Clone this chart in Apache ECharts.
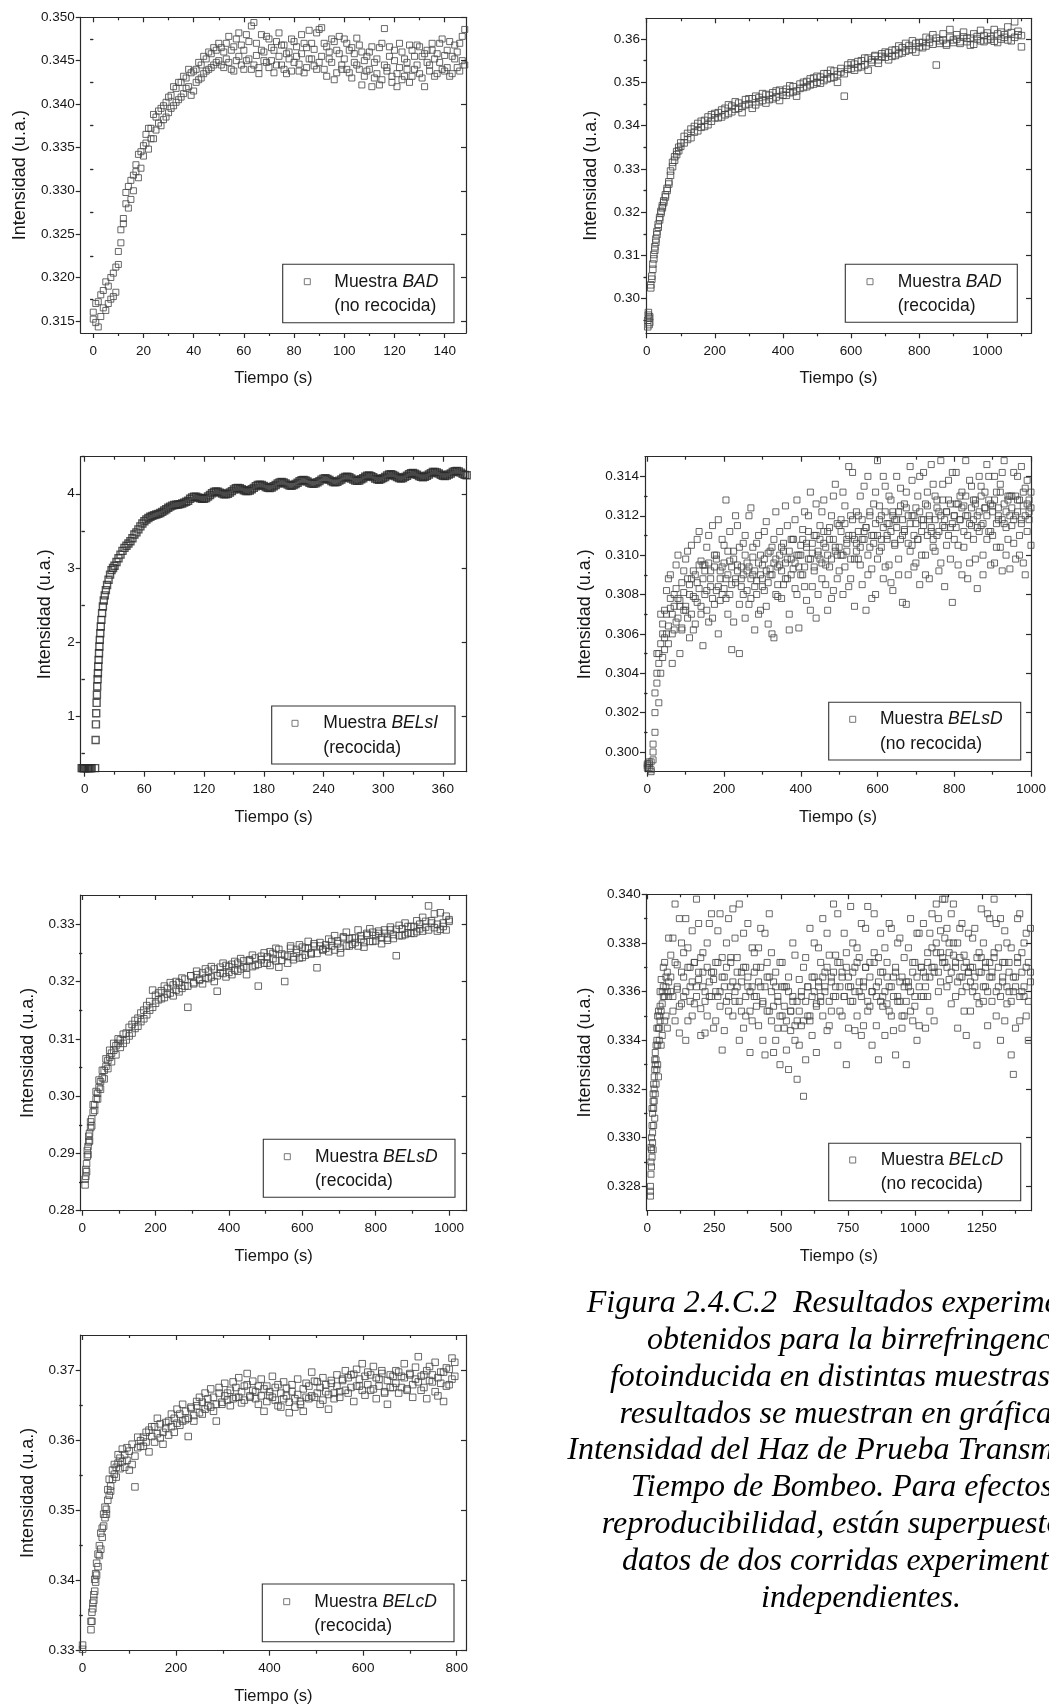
<!DOCTYPE html>
<html>
<head>
<meta charset="utf-8">
<script src="https://cdn.jsdelivr.net/npm/echarts@6/dist/echarts.min.js"></script>
<style>
  html, body { margin: 0; padding: 0; background: #fff; }
  #chart { width: 1049px; height: 1707px; }
</style>
</head>
<body>
<div id="chart"></div>
<script>
// ---- Muestra BAD (no recocida) ----
const badNoRecT = [0,1,2,3,4,5,6,7,8,9,10,11,12,13,14,15,16,17,18,19,20,21,22,23,24,25,26,27,28,29,
  30,31,32,33,34,35,36,37,38,39,40,41,42,43,44,45,46,47,48,49,50,51,52,53,54,55,56,57,58,59,
  60,61,62,63,64,65,66,67,68,69,70,71,72,73,74,75,76,77,78,79,80,81,82,83,84,85,86,87,88,89,
  90,91,92,93,94,95,96,97,98,99,100,101,102,103,104,105,106,107,108,109,110,111,112,113,114,115,116,117,118,119,
  120,121,122,123,124,125,126,127,128,129,130,131,132,133,134,135,136,137,138,139,140,141,142,143,144,145,146,147,148,149];
const badNoRecA = [0.3160,0.3148,0.3172,0.3155,0.3185,0.3162,0.3190,0.3175,0.3205,0.3183,
  0.3215,0.3240,0.3268,0.3285,0.3305,0.3290,0.3318,0.3330,0.3342,0.3326,
  0.3352,0.3365,0.3348,0.3372,0.3360,0.3385,0.3378,0.3395,0.3382,0.3402,
  0.3390,0.3410,0.3398,0.3418,0.3405,0.3425,0.3412,0.3430,0.3420,0.3436,
  0.3415,0.3440,0.3428,0.3445,0.3435,0.3452,0.3440,0.3458,0.3445,0.3462,
  0.3450,0.3465,0.3442,0.3470,0.3448,0.3462,0.3438,0.3475,0.3455,0.3468,
  0.3440,0.3480,0.3452,0.3490,0.3445,0.3470,0.3435,0.3462,0.3450,0.3478,
  0.3442,0.3465,0.3436,0.3472,0.3455,0.3445,0.3468,0.3435,0.3460,0.3475,
  0.3448,0.3466,0.3438,0.3458,0.3470,0.3442,0.3485,0.3452,0.3463,0.3440,
  0.3486,0.3455,0.3470,0.3432,0.3460,0.3448,0.3472,0.3436,0.3458,0.3445,
  0.3475,0.3440,0.3462,0.3430,0.3458,0.3445,0.3468,0.3422,0.3450,0.3438,
  0.3460,0.3420,0.3448,0.3435,0.3465,0.3428,0.3487,0.3442,0.3455,0.3425,
  0.3450,0.3420,0.3442,0.3460,0.3432,0.3448,0.3425,0.3462,0.3440,0.3468,
  0.3435,0.3455,0.3420,0.3462,0.3445,0.3470,0.3432,0.3458,0.3448,0.3475,
  0.3438,0.3462,0.3432,0.3455,0.3468,0.3442,0.3470,0.3450,0.3486,0.3418];
const badNoRecB = [0.3152,0.3170,0.3143,0.3180,0.3165,0.3195,0.3170,0.3200,0.3178,0.3212,
  0.3230,0.3255,0.3262,0.3298,0.3280,0.3312,0.3300,0.3322,0.3315,0.3345,
  0.3340,0.3355,0.3372,0.3360,0.3388,0.3370,0.3392,0.3375,0.3398,0.3385,
  0.3408,0.3395,0.3420,0.3402,0.3425,0.3408,0.3432,0.3418,0.3440,0.3410,
  0.3438,0.3425,0.3448,0.3430,0.3455,0.3438,0.3460,0.3442,0.3465,0.3448,
  0.3470,0.3445,0.3460,0.3452,0.3478,0.3440,0.3466,0.3450,0.3482,0.3445,
  0.3462,0.3450,0.3472,0.3440,0.3494,0.3456,0.3442,0.3480,0.3460,0.3448,
  0.3475,0.3450,0.3462,0.3445,0.3482,0.3468,0.3440,0.3458,0.3452,0.3438,
  0.3472,0.3455,0.3446,0.3480,0.3436,0.3465,0.3452,0.3470,0.3444,0.3482,
  0.3448,0.3488,0.3440,0.3466,0.3452,0.3475,0.3428,0.3462,0.3478,0.3440,
  0.3452,0.3470,0.3436,0.3465,0.3448,0.3476,0.3440,0.3460,0.3432,0.3455,
  0.3440,0.3466,0.3430,0.3452,0.3422,0.3470,0.3445,0.3438,0.3466,0.3432,
  0.3462,0.3435,0.3470,0.3428,0.3452,0.3440,0.3468,0.3432,0.3455,0.3445,
  0.3466,0.3430,0.3458,0.3448,0.3438,0.3462,0.3452,0.3435,0.3470,0.3440,
  0.3456,0.3442,0.3472,0.3435,0.3452,0.3460,0.3438,0.3478,0.3445,0.3460];

// ---- Muestra BAD (recocida) ----
const badRecT = [3,5,7,9,12,15,18,21,24,27,30,34,38,42,46,50,55,60,65,70,76,82,88,94,100,
  110,120,130,140,150,160,170,180,190,200,210,220,230,240,250,260,270,280,290,300,
  310,320,330,340,350,360,370,380,390,400,410,420,430,440,450,460,470,480,490,500,
  510,520,530,540,550,560,570,580,590,600,610,620,630,640,650,660,670,680,690,700,
  710,720,730,740,750,760,770,780,790,800,810,820,830,840,850,860,870,880,890,900,
  910,920,930,940,950,960,970,980,990,1000,1010,1020,1030,1040,1050,1060,1070,1080,1090,1100];
const badRecA = [0.2950,0.2962,0.2940,0.2958,0.3025,0.3052,0.3080,0.3102,0.3120,0.3138,0.3155,0.3172,0.3188,
  0.3202,0.3215,0.3226,0.3240,0.3255,0.3270,0.3295,0.3315,0.3328,0.3340,0.3350,0.3360,
  0.3375,0.3368,0.3392,0.3385,0.3405,0.3396,0.3412,0.3402,0.3425,0.3418,
  0.3430,0.3420,0.3440,0.3428,0.3445,0.3438,0.3452,0.3444,0.3460,0.3450,
  0.3462,0.3448,0.3465,0.3458,0.3472,0.3460,0.3476,0.3466,0.3482,0.3470,
  0.3484,0.3476,0.3490,0.3480,0.3496,0.3488,0.3502,0.3494,0.3510,0.3500,
  0.3512,0.3504,0.3520,0.3510,0.3526,0.3518,0.3532,0.3520,0.3540,0.3532,
  0.3542,0.3534,0.3550,0.3540,0.3556,0.3546,0.3560,0.3552,0.3566,0.3558,
  0.3568,0.3560,0.3575,0.3566,0.3580,0.3572,0.3585,0.3576,0.3590,0.3582,
  0.3592,0.3584,0.3600,0.3588,0.3602,0.3590,0.3598,0.3586,0.3604,0.3592,
  0.3600,0.3590,0.3605,0.3594,0.3602,0.3588,0.3606,0.3596,0.3608,0.3598,
  0.3606,0.3595,0.3612,0.3600,0.3610,0.3598,0.3615,0.3604,0.3618,0.3608];
const badRecB = [0.2935,0.2968,0.2955,0.2945,0.3032,0.3045,0.3068,0.3092,0.3112,0.3130,0.3148,0.3165,0.3182,
  0.3198,0.3210,0.3222,0.3235,0.3250,0.3265,0.3285,0.3305,0.3320,0.3333,0.3342,0.3352,
  0.3360,0.3382,0.3372,0.3398,0.3388,0.3410,0.3398,0.3420,0.3410,0.3428,
  0.3418,0.3436,0.3425,0.3448,0.3432,0.3455,0.3440,0.3430,0.3448,0.3462,
  0.3440,0.3468,0.3455,0.3474,0.3452,0.3470,0.3462,0.3480,0.3458,0.3478,
  0.3470,0.3492,0.3478,0.3468,0.3486,0.3500,0.3490,0.3508,0.3496,0.3514,
  0.3498,0.3520,0.3508,0.3528,0.3512,0.3500,0.3524,0.3468,0.3530,0.3545,
  0.3528,0.3548,0.3536,0.3556,0.3528,0.3552,0.3562,0.3544,0.3560,0.3570,
  0.3552,0.3574,0.3562,0.3584,0.3568,0.3590,0.3575,0.3596,0.3570,0.3592,
  0.3580,0.3604,0.3592,0.3610,0.3540,0.3596,0.3612,0.3590,0.3622,0.3598,
  0.3610,0.3594,0.3616,0.3602,0.3586,0.3612,0.3600,0.3620,0.3594,0.3614,
  0.3600,0.3622,0.3592,0.3616,0.3604,0.3628,0.3596,0.3640,0.3610,0.3582];

// ---- Muestra BELsI (recocida) ----
const belsiRecT = [-3,-2,-1,0,1,2,3,4,5,6,7,10.5,
  11,11.3,11.6,12,12.3,12.6,13,13.3,13.6,14,14.4,14.8,15.2,15.7,16.2,16.8,17.5,18.3,19.2,20.2,21.3,22.5,24,25.5,27,28.5,
  30,32,34,36,38,40,42,44,46,48,50,52,54,56,58,
  60,62,64,66,68,70,72,74,76,78,80,82,84,86,88,90,92,94,96,98,100,
  102,104,106,108,110,112,114,116,118,120,122,124,126,128,130,132,134,136,138,140,
  142,144,146,148,150,152,154,156,158,160,162,164,166,168,170,172,174,176,178,180,
  182,184,186,188,190,192,194,196,198,200,202,204,206,208,210,212,214,216,218,220,
  222,224,226,228,230,232,234,236,238,240,242,244,246,248,250,252,254,256,258,260,
  262,264,266,268,270,272,274,276,278,280,282,284,286,288,290,292,294,296,298,300,
  302,304,306,308,310,312,314,316,318,320,322,324,326,328,330,332,334,336,338,340,
  342,344,346,348,350,352,354,356,358,360,362,364,366,368,370,372,374,376,378,380,382,384];
const belsiRecI = [0.30,0.30,0.30,0.30,0.30,0.30,0.30,0.30,0.30,0.30,0.30,0.30,
  0.68,0.89,1.04,1.18,1.29,1.40,1.50,1.58,1.67,1.76,1.85,1.94,2.03,2.12,2.21,2.30,2.39,2.48,2.56,2.63,2.70,2.77,2.84,2.91,2.97,3.00,
  3.03,3.08,3.13,3.18,3.23,3.27,3.30,3.33,3.36,3.40,3.45,3.48,3.52,3.56,3.60,
  3.630,3.653,3.673,3.690,3.702,3.712,3.720,3.729,3.740,3.756,3.775,3.792,3.811,3.827,3.840,3.848,3.852,3.856,3.861,3.868,3.880,
  3.893,3.906,3.932,3.952,3.962,3.959,3.950,3.939,3.932,3.933,3.944,3.963,3.983,4.007,4.025,4.032,4.027,4.016,4.003,3.994,
  3.992,4.001,4.018,4.036,4.058,4.074,4.080,4.074,4.062,4.048,4.038,4.036,4.045,4.062,4.080,4.102,4.118,4.124,4.118,4.106,
  4.091,4.080,4.077,4.085,4.101,4.118,4.139,4.154,4.159,4.152,4.139,4.123,4.112,4.108,4.116,4.131,4.148,4.168,4.183,4.187,
  4.179,4.165,4.149,4.137,4.133,4.140,4.155,4.171,4.191,4.205,4.209,4.201,4.187,4.171,4.159,4.155,4.162,4.177,4.193,4.213,
  4.227,4.230,4.222,4.207,4.191,4.178,4.174,4.180,4.195,4.210,4.230,4.243,4.247,4.238,4.224,4.207,4.195,4.190,4.197,4.211,
  4.227,4.246,4.260,4.263,4.255,4.240,4.224,4.211,4.207,4.213,4.228,4.243,4.263,4.276,4.280,4.271,4.257,4.240,4.228,4.223,
  4.230,4.244,4.260,4.279,4.293,4.296,4.288,4.273,4.257,4.244,4.239,4.245,4.259,4.274,4.293,4.306,4.309,4.300,4.285,4.268,4.255,4.250];

// ---- Muestra BELsD (no recocida) ----
const belsdNoRecT = [0,5,10,15,20,25,30,35,40,45,50,55,60,65,70,75,80,85,90,95,
  100,105,110,115,120,125,130,135,140,145,150,155,160,165,170,175,180,185,190,195,
  200,205,210,215,220,225,230,235,240,245,250,255,260,265,270,275,280,285,290,295,
  300,305,310,315,320,325,330,335,340,345,350,355,360,365,370,375,380,385,390,395,
  400,405,410,415,420,425,430,435,440,445,450,455,460,465,470,475,480,485,490,495,
  500,505,510,515,520,525,530,535,540,545,550,555,560,565,570,575,580,585,590,595,
  600,605,610,615,620,625,630,635,640,645,650,655,660,665,670,675,680,685,690,695,
  700,705,710,715,720,725,730,735,740,745,750,755,760,765,770,775,780,785,790,795,
  800,805,810,815,820,825,830,835,840,845,850,855,860,865,870,875,880,885,890,895,
  900,905,910,915,920,925,930,935,940,945,950,955,960,965,970,975,980,985,990,995,1000];
const belsdNoRecA = [0.2993,0.2994,0.2991,0.2996,0.3010,0.3035,0.3045,0.3055,0.3060,0.3072,
  0.3082,0.3055,0.3090,0.3070,0.3062,0.3095,0.3078,0.3050,0.3086,0.3072,
  0.3098,0.3068,0.3085,0.3105,0.3062,0.3090,0.3076,0.3112,0.3070,0.3095,
  0.3080,0.3104,0.3066,0.3092,0.3115,0.3075,0.3098,0.3060,0.3088,0.3108,
  0.3083,0.3128,0.3070,0.3097,0.3052,0.3102,0.3088,0.3115,0.3075,0.3094,
  0.3106,0.3068,0.3092,0.3120,0.3078,0.3099,0.3062,0.3087,0.3110,0.3072,
  0.3095,0.3082,0.3117,0.3065,0.3090,0.3104,0.3058,0.3098,0.3085,0.3112,
  0.3078,0.3102,0.3125,0.3088,0.3070,0.3108,0.3093,0.3118,0.3080,0.3063,
  0.3105,0.3090,0.3122,0.3077,0.3098,0.3132,0.3084,0.3110,0.3068,0.3100,
  0.3115,0.3088,0.3128,0.3095,0.3072,0.3108,0.3120,0.3082,0.3136,0.3100,
  0.3092,0.3118,0.3080,0.3125,0.3102,0.3145,0.3088,0.3110,0.3074,0.3122,
  0.3098,0.3130,0.3085,0.3112,0.3072,0.3140,0.3104,0.3093,0.3126,0.3080,
  0.3148,0.3102,0.3120,0.3088,0.3135,0.3110,0.3095,0.3128,0.3082,0.3118,
  0.3140,0.3098,0.3125,0.3076,0.3113,0.3132,0.3090,0.3145,0.3105,0.3120,
  0.3096,0.3130,0.3085,0.3118,0.3142,0.3100,0.3125,0.3088,0.3112,0.3136,
  0.3102,0.3128,0.3092,0.3148,0.3115,0.3084,0.3122,0.3138,0.3098,0.3076,
  0.3120,0.3142,0.3105,0.3130,0.3090,0.3125,0.3148,0.3110,0.3096,0.3135,
  0.3108,0.3128,0.3083,0.3140,0.3115,0.3100,0.3132,0.3146,0.3112,0.3095,
  0.3125,0.3140,0.3104,0.3118,0.3136,0.3092,0.3148,0.3122,0.3108,0.3130,
  0.3115,0.3142,0.3098,0.3128,0.3110,0.3145,0.3125,0.3090,0.3138,0.3118,0.3132];
const belsdNoRecB = [0.2992,0.2995,0.2990,0.3004,0.3030,0.3050,0.3025,0.3070,0.3048,0.3058,
  0.3060,0.3088,0.3073,0.3045,0.3080,0.3066,0.3100,0.3074,0.3063,0.3092,
  0.3074,0.3102,0.3058,0.3088,0.3079,0.3065,0.3108,0.3083,0.3097,0.3054,
  0.3095,0.3072,0.3110,0.3084,0.3068,0.3100,0.3082,0.3118,0.3077,0.3094,
  0.3105,0.3078,0.3090,0.3112,0.3085,0.3066,0.3120,0.3095,0.3050,0.3088,
  0.3080,0.3110,0.3096,0.3075,0.3124,0.3090,0.3084,0.3106,0.3070,0.3100,
  0.3088,0.3112,0.3074,0.3101,0.3093,0.3060,0.3108,0.3122,0.3079,0.3095,
  0.3104,0.3085,0.3096,0.3115,0.3062,0.3098,0.3108,0.3083,0.3128,0.3100,
  0.3090,0.3113,0.3084,0.3106,0.3120,0.3072,0.3101,0.3094,0.3126,0.3080,
  0.3098,0.3122,0.3106,0.3085,0.3112,0.3094,0.3078,0.3130,0.3104,0.3088,
  0.3115,0.3100,0.3132,0.3094,0.3108,0.3084,0.3120,0.3142,0.3098,0.3106,
  0.3120,0.3095,0.3108,0.3135,0.3114,0.3090,0.3122,0.3078,0.3110,0.3132,
  0.3098,0.3125,0.3108,0.3140,0.3094,0.3116,0.3130,0.3086,0.3122,0.3105,
  0.3118,0.3090,0.3134,0.3110,0.3126,0.3075,0.3120,0.3102,0.3138,0.3094,
  0.3124,0.3108,0.3140,0.3100,0.3115,0.3090,0.3132,0.3118,0.3146,0.3104,
  0.3130,0.3110,0.3122,0.3096,0.3136,0.3118,0.3105,0.3128,0.3114,0.3142,
  0.3108,0.3126,0.3095,0.3118,0.3132,0.3104,0.3120,0.3088,0.3138,0.3115,
  0.3128,0.3098,0.3120,0.3112,0.3135,0.3090,0.3124,0.3108,0.3140,0.3126,
  0.3110,0.3096,0.3132,0.3120,0.3104,0.3142,0.3116,0.3100,0.3128,0.3093,
  0.3130,0.3106,0.3120,0.3140,0.3100,0.3118,0.3096,0.3134,0.3112,0.3128,0.3105];
const belsdNoRecC = [0.2994,0.2992,0.2995,0.3000,0.3020,0.3040,0.3050,0.3040,0.3065,0.3052,
  0.3070,0.3064,0.3078,0.3060,0.3074,0.3083,0.3068,0.3077,0.3062,0.3081,
  0.3072,0.3088,0.3080,0.3070,0.3092,0.3078,0.3086,0.3095,0.3074,0.3088,
  0.3092,0.3082,0.3096,0.3088,0.3078,0.3094,0.3100,0.3084,0.3092,0.3080,
  0.3096,0.3088,0.3102,0.3080,0.3094,0.3098,0.3086,0.3092,0.3104,0.3084,
  0.3090,0.3100,0.3082,0.3094,0.3088,0.3104,0.3092,0.3080,0.3096,0.3090,
  0.3084,0.3098,0.3092,0.3086,0.3102,0.3090,0.3096,0.3080,0.3094,0.3100,
  0.3092,0.3106,0.3088,0.3098,0.3102,0.3090,0.3108,0.3096,0.3100,0.3094,
  0.3100,0.3108,0.3094,0.3104,0.3112,0.3098,0.3106,0.3092,0.3110,0.3102,
  0.3108,0.3096,0.3112,0.3104,0.3100,0.3114,0.3098,0.3108,0.3102,0.3116,
  0.3104,0.3112,0.3100,0.3116,0.3106,0.3110,0.3098,0.3118,0.3108,0.3102,
  0.3112,0.3104,0.3118,0.3108,0.3114,0.3100,0.3120,0.3110,0.3106,0.3116,
  0.3110,0.3118,0.3104,0.3114,0.3122,0.3108,0.3116,0.3112,0.3120,0.3106,
  0.3114,0.3122,0.3108,0.3118,0.3112,0.3124,0.3106,0.3116,0.3120,0.3110,
  0.3116,0.3108,0.3122,0.3112,0.3118,0.3126,0.3110,0.3120,0.3114,0.3108,
  0.3118,0.3124,0.3112,0.3120,0.3128,0.3114,0.3122,0.3110,0.3126,0.3116,
  0.3120,0.3114,0.3126,0.3118,0.3124,0.3112,0.3130,0.3120,0.3116,0.3124,
  0.3118,0.3126,0.3114,0.3122,0.3130,0.3116,0.3124,0.3120,0.3128,0.3112,
  0.3122,0.3128,0.3116,0.3124,0.3132,0.3118,0.3126,0.3114,0.3130,0.3120,
  0.3124,0.3118,0.3130,0.3122,0.3128,0.3116,0.3132,0.3120,0.3126,0.3122,0.3124];

// ---- Muestra BELsD (recocida) ----
const belsdRecT = [8,10,12,14,16,18,20,23,26,30,34,38,42,46,50,55,60,65,70,75,80,86,92,98,
  104,112,120,128,136,144,152,160,168,176,184,192,200,208,216,224,232,240,248,256,
  264,272,280,288,296,304,312,320,328,336,344,352,360,368,376,384,392,400,408,416,
  424,432,440,448,456,464,472,480,488,496,504,512,520,528,536,544,552,560,568,576,
  584,592,600,608,616,624,632,640,648,656,664,672,680,688,696,704,712,720,728,736,
  744,752,760,768,776,784,792,800,808,816,824,832,840,848,856,864,872,880,888,896,
  904,912,920,928,936,944,952,960,968,976,984,992,1000];
const belsdRecA = [0.2845,0.2860,0.2882,0.2895,0.2912,0.2920,0.2935,0.2945,0.2960,0.2972,0.2985,0.2995,
  0.3005,0.3015,0.3025,0.3032,0.3045,0.3052,0.3062,0.3068,0.3075,0.3080,0.3088,0.3092,
  0.3098,0.3092,0.3110,0.3105,0.3125,0.3118,0.3136,0.3130,0.3150,0.3142,
  0.3165,0.3155,0.3176,0.3168,0.3184,0.3172,0.3188,0.3180,0.3194,0.3185,
  0.3198,0.3188,0.3204,0.3192,0.3210,0.3198,0.3212,0.3202,0.3215,0.3206,
  0.3218,0.3208,0.3222,0.3210,0.3225,0.3214,0.3228,0.3216,0.3230,0.3220,
  0.3232,0.3222,0.3236,0.3224,0.3238,0.3226,0.3241,0.3230,0.3244,0.3232,
  0.3243,0.3228,0.3249,0.3236,0.3256,0.3237,0.3246,0.3232,0.3258,0.3243,
  0.3256,0.3241,0.3260,0.3246,0.3258,0.3250,0.3266,0.3249,0.3262,0.3255,
  0.3264,0.3252,0.3270,0.3255,0.3271,0.3258,0.3276,0.3262,0.3275,0.3265,
  0.3276,0.3262,0.3280,0.3268,0.3281,0.3270,0.3286,0.3271,0.3284,0.3276,
  0.3284,0.3276,0.3290,0.3275,0.3291,0.3280,0.3292,0.3282,0.3296,0.3284,
  0.3296,0.3287,0.3300,0.3288,0.3305,0.3290,0.3306,0.3294,0.3300,0.3291,
  0.3302,0.3290,0.3308];
const belsdRecB = [0.2855,0.2872,0.2868,0.2905,0.2898,0.2930,0.2922,0.2955,0.2948,0.2985,0.2975,0.3008,
  0.2995,0.3028,0.3012,0.3045,0.3030,0.3065,0.3048,0.3080,0.3060,0.3092,0.3072,0.3100,
  0.3085,0.3108,0.3098,0.3120,0.3110,0.3132,0.3122,0.3145,0.3135,0.3158,
  0.3150,0.3185,0.3162,0.3180,0.3170,0.3192,0.3178,0.3198,0.3175,0.3200,
  0.3182,0.3206,0.3192,0.3155,0.3210,0.3196,0.3218,0.3204,0.3196,0.3222,
  0.3205,0.3226,0.3200,0.3183,0.3215,0.3232,0.3208,0.3226,0.3212,0.3235,
  0.3218,0.3240,0.3226,0.3212,0.3236,0.3246,0.3228,0.3192,0.3238,0.3250,
  0.3232,0.3252,0.3240,0.3258,0.3225,0.3248,0.3200,0.3244,0.3262,0.3238,
  0.3250,0.3264,0.3242,0.3258,0.3270,0.3248,0.3262,0.3224,0.3268,0.3256,
  0.3258,0.3274,0.3262,0.3280,0.3266,0.3250,0.3278,0.3286,0.3262,0.3276,
  0.3268,0.3290,0.3274,0.3260,0.3284,0.3292,0.3270,0.3280,0.3288,0.3266,
  0.3290,0.3272,0.3295,0.3282,0.3245,0.3298,0.3280,0.3302,0.3285,0.3296,
  0.3284,0.3306,0.3292,0.3312,0.3295,0.3332,0.3302,0.3318,0.3288,0.3320,
  0.3296,0.3314,0.3305];

// ---- Muestra BELcD (no recocida) ----
const belcdNoRecT = [12,14,16,18,20,22,24,26,28,30,33,36,39,42,45,48,52,56,60,65,70,75,80,
  88,96,104,112,120,128,136,144,152,160,168,176,184,192,200,208,216,224,232,240,
  248,256,264,272,280,288,296,304,312,320,328,336,344,352,360,368,376,384,392,400,
  408,416,424,432,440,448,456,464,472,480,488,496,504,512,520,528,536,544,552,560,
  568,576,584,592,600,608,616,624,632,640,648,656,664,672,680,688,696,704,712,720,
  728,736,744,752,760,768,776,784,792,800,808,816,824,832,840,848,856,864,872,880,
  888,896,904,912,920,928,936,944,952,960,968,976,984,992,1000,1008,1016,1024,1032,1040,
  1048,1056,1064,1072,1080,1088,1096,1104,1112,1120,1128,1136,1144,1152,1160,1168,1176,1184,1192,1200,
  1208,1216,1224,1232,1240,1248,1256,1264,1272,1280,1288,1296,1304,1312,1320,1328,1336,1344,1352,1360,
  1368,1376,1384,1392,1400,1408,1416,1424,1432,1440];
const belcdNoRecA = [0.3276,0.3285,0.3300,0.3292,0.3310,0.3318,0.3305,0.3325,0.3332,0.3318,0.3338,0.3345,
  0.3330,0.3352,0.3340,0.3348,0.3365,0.3342,0.3358,0.3372,0.3350,0.3368,0.3382,
  0.3375,0.3352,0.3396,0.3361,0.3343,0.3380,0.3358,0.3390,0.3348,0.3370,
  0.3385,0.3355,0.3398,0.3365,0.3342,0.3376,0.3360,0.3350,0.3388,0.3368,
  0.3345,0.3372,0.3358,0.3392,0.3336,0.3366,0.3380,0.3352,0.3362,0.3394,
  0.3356,0.3374,0.3340,0.3368,0.3384,0.3350,0.3362,0.3335,0.3378,0.3358,
  0.3370,0.3346,0.3386,0.3355,0.3334,0.3372,0.3392,0.3348,0.3364,0.3340,
  0.3358,0.3330,0.3372,0.3345,0.3362,0.3328,0.3352,0.3380,0.3340,0.3324,
  0.3365,0.3346,0.3317,0.3374,0.3350,0.3386,0.3342,0.3360,0.3335,0.3378,
  0.3356,0.3390,0.3368,0.3344,0.3375,0.3352,0.3396,0.3362,0.3338,0.3372,
  0.3350,0.3384,0.3330,0.3366,0.3395,0.3356,0.3344,0.3378,0.3360,0.3388,
  0.3346,0.3370,0.3395,0.3354,0.3338,0.3376,0.3362,0.3332,0.3384,0.3358,
  0.3342,0.3372,0.3388,0.3350,0.3366,0.3334,0.3380,0.3356,0.3345,0.3374,
  0.3330,0.3362,0.3390,0.3348,0.3372,0.3340,0.3384,0.3358,0.3368,0.3345,
  0.3376,0.3352,0.3392,0.3368,0.3396,0.3360,0.3385,0.3374,0.3398,0.3362,
  0.3380,0.3355,0.3396,0.3370,0.3345,0.3386,0.3360,0.3375,0.3342,0.3368,
  0.3352,0.3382,0.3362,0.3338,0.3376,0.3394,0.3356,0.3372,0.3346,0.3390,
  0.3368,0.3398,0.3350,0.3378,0.3340,0.3364,0.3385,0.3355,0.3372,0.3334,
  0.3326,0.3362,0.3390,0.3348,0.3376,0.3358,0.3384,0.3340,0.3368,0.3352];
const belcdNoRecB = [0.3280,0.3296,0.3288,0.3312,0.3302,0.3295,0.3322,0.3315,0.3308,0.3335,0.3322,0.3328,
  0.3350,0.3325,0.3345,0.3360,0.3338,0.3355,0.3370,0.3348,0.3362,0.3345,0.3358,
  0.3360,0.3382,0.3348,0.3371,0.3390,0.3355,0.3366,0.3340,0.3378,0.3362,
  0.3350,0.3372,0.3362,0.3388,0.3353,0.3368,0.3343,0.3380,0.3358,0.3392,
  0.3365,0.3348,0.3385,0.3360,0.3374,0.3344,0.3356,0.3390,0.3372,0.3350,
  0.3382,0.3362,0.3396,0.3352,0.3345,0.3370,0.3388,0.3360,0.3348,0.3376,
  0.3354,0.3378,0.3362,0.3340,0.3384,0.3366,0.3352,0.3376,0.3335,0.3368,
  0.3345,0.3372,0.3350,0.3362,0.3336,0.3366,0.3344,0.3356,0.3375,0.3348,
  0.3338,0.3358,0.3370,0.3332,0.3362,0.3348,0.3366,0.3380,0.3355,0.3364,
  0.3372,0.3350,0.3362,0.3384,0.3346,0.3366,0.3358,0.3375,0.3392,0.3352,
  0.3368,0.3358,0.3376,0.3345,0.3362,0.3380,0.3370,0.3350,0.3374,0.3342,
  0.3364,0.3386,0.3352,0.3372,0.3360,0.3392,0.3346,0.3374,0.3356,0.3368,
  0.3378,0.3355,0.3362,0.3386,0.3344,0.3370,0.3358,0.3382,0.3366,0.3350,
  0.3364,0.3378,0.3352,0.3372,0.3358,0.3384,0.3346,0.3370,0.3388,0.3362,
  0.3358,0.3384,0.3370,0.3348,0.3376,0.3390,0.3364,0.3398,0.3372,0.3386,
  0.3365,0.3392,0.3375,0.3358,0.3380,0.3366,0.3388,0.3352,0.3372,0.3384,
  0.3370,0.3360,0.3386,0.3374,0.3355,0.3368,0.3380,0.3362,0.3392,0.3366,
  0.3356,0.3376,0.3388,0.3362,0.3390,0.3372,0.3348,0.3380,0.3360,0.3378,
  0.3366,0.3345,0.3374,0.3392,0.3360,0.3380,0.3350,0.3372,0.3386,0.3362];
const belcdNoRecC = [0.3278,0.3290,0.3295,0.3305,0.3298,0.3315,0.3312,0.3320,0.3328,0.3330,0.3332,0.3340,
  0.3338,0.3345,0.3350,0.3354,0.3352,0.3360,0.3362,0.3358,0.3366,0.3360,0.3364,
  0.3366,0.3358,0.3372,0.3362,0.3354,0.3368,0.3376,0.3360,0.3370,0.3356,
  0.3364,0.3372,0.3358,0.3368,0.3374,0.3362,0.3356,0.3370,0.3364,0.3358,
  0.3368,0.3360,0.3372,0.3354,0.3366,0.3362,0.3370,0.3358,0.3374,0.3364,
  0.3360,0.3368,0.3356,0.3364,0.3370,0.3358,0.3366,0.3352,0.3362,0.3368,
  0.3358,0.3364,0.3370,0.3356,0.3362,0.3352,0.3366,0.3360,0.3354,0.3362,
  0.3356,0.3350,0.3362,0.3354,0.3348,0.3360,0.3352,0.3358,0.3346,0.3356,
  0.3352,0.3360,0.3348,0.3356,0.3362,0.3350,0.3358,0.3366,0.3354,0.3362,
  0.3358,0.3366,0.3360,0.3370,0.3356,0.3364,0.3368,0.3358,0.3372,0.3362,
  0.3366,0.3358,0.3370,0.3362,0.3356,0.3368,0.3360,0.3372,0.3364,0.3358,
  0.3362,0.3370,0.3356,0.3366,0.3360,0.3372,0.3358,0.3364,0.3368,0.3354,
  0.3360,0.3366,0.3352,0.3362,0.3358,0.3368,0.3356,0.3364,0.3350,0.3362,
  0.3356,0.3364,0.3360,0.3368,0.3354,0.3366,0.3362,0.3370,0.3358,0.3366,
  0.3372,0.3366,0.3378,0.3370,0.3380,0.3368,0.3376,0.3372,0.3382,0.3370,
  0.3376,0.3368,0.3380,0.3372,0.3364,0.3374,0.3366,0.3370,0.3362,0.3368,
  0.3364,0.3370,0.3366,0.3358,0.3368,0.3374,0.3362,0.3370,0.3360,0.3372,
  0.3366,0.3374,0.3360,0.3370,0.3358,0.3366,0.3372,0.3362,0.3368,0.3356,
  0.3360,0.3366,0.3372,0.3358,0.3368,0.3362,0.3370,0.3356,0.3364,0.3360];

// ---- Muestra BELcD (recocida) ----
const belcdRecT = [0,18,20,22,24,26,28,30,33,36,39,42,45,48,51,54,57,60,64,68,72,76,80,85,90,95,100,106,112,118,124,
  130,136,142,148,154,160,166,172,178,184,190,196,202,208,214,220,226,232,238,244,
  250,256,262,268,274,280,286,292,298,304,310,316,322,328,334,340,346,352,358,364,
  370,376,382,388,394,400,406,412,418,424,430,436,442,448,454,460,466,472,478,484,
  490,496,502,508,514,520,526,532,538,544,550,556,562,568,574,580,586,592,598,604,
  610,616,622,628,634,640,646,652,658,664,670,676,682,688,694,700,706,712,718,724,
  730,736,742,748,754,760,766,772,778,784,790,796];
const belcdRecA = [0.3308,0.3330,0.3342,0.3360,0.3372,0.3385,0.3398,0.3408,0.3420,0.3436,0.3445,0.3462,0.3478,
  0.3490,0.3502,0.3515,0.3522,0.3535,0.3545,0.3552,0.3562,0.3568,0.3575,0.3570,0.3580,0.3572,0.3585,0.3566,0.3578,0.3590,0.3600,
  0.3605,0.3598,0.3615,0.3606,0.3620,0.3610,0.3624,0.3612,0.3618,0.3628,
  0.3620,0.3632,0.3625,0.3638,0.3628,0.3642,0.3632,0.3646,0.3636,0.3650,
  0.3640,0.3655,0.3645,0.3660,0.3648,0.3662,0.3652,0.3668,0.3655,0.3664,
  0.3658,0.3672,0.3660,0.3676,0.3662,0.3670,0.3658,0.3680,0.3664,0.3672,
  0.3660,0.3678,0.3664,0.3674,0.3656,0.3670,0.3662,0.3676,0.3650,0.3668,
  0.3660,0.3675,0.3655,0.3670,0.3648,0.3666,0.3652,0.3674,0.3662,0.3678,
  0.3664,0.3685,0.3668,0.3676,0.3658,0.3680,0.3666,0.3682,0.3660,0.3678,
  0.3670,0.3686,0.3672,0.3690,0.3676,0.3695,0.3678,0.3688,0.3672,0.3692,
  0.3680,0.3694,0.3674,0.3690,0.3678,0.3696,0.3670,0.3686,0.3676,0.3692,
  0.3682,0.3698,0.3676,0.3690,0.3672,0.3694,0.3680,0.3705,0.3684,0.3692,
  0.3676,0.3700,0.3686,0.3694,0.3670,0.3690,0.3682,0.3698,0.3678,0.3702,
  0.3688,0.3712];
const belcdRecB = [0.3302,0.3342,0.3355,0.3368,0.3380,0.3402,0.3410,0.3425,0.3438,0.3450,0.3468,0.3475,0.3495,
  0.3505,0.3495,0.3530,0.3545,0.3528,0.3558,0.3566,0.3548,0.3580,0.3560,0.3588,0.3562,0.3590,0.3558,0.3595,0.3534,0.3605,0.3592,
  0.3592,0.3612,0.3584,0.3620,0.3598,0.3632,0.3604,0.3595,0.3626,0.3608,
  0.3638,0.3612,0.3645,0.3622,0.3652,0.3630,0.3606,0.3648,0.3628,0.3656,
  0.3662,0.3638,0.3668,0.3650,0.3674,0.3642,0.3628,0.3676,0.3652,0.3682,
  0.3668,0.3650,0.3684,0.3662,0.3690,0.3654,0.3678,0.3696,0.3662,0.3685,
  0.3670,0.3652,0.3688,0.3642,0.3678,0.3664,0.3692,0.3658,0.3680,0.3648,
  0.3684,0.3664,0.3640,0.3680,0.3660,0.3688,0.3656,0.3642,0.3682,0.3660,
  0.3698,0.3662,0.3684,0.3652,0.3690,0.3670,0.3645,0.3686,0.3668,0.3694,
  0.3662,0.3688,0.3700,0.3668,0.3694,0.3656,0.3702,0.3678,0.3710,0.3665,
  0.3698,0.3672,0.3706,0.3660,0.3688,0.3700,0.3668,0.3652,0.3694,0.3676,
  0.3700,0.3668,0.3692,0.3710,0.3674,0.3696,0.3662,0.3688,0.3720,0.3672,
  0.3694,0.3660,0.3706,0.3684,0.3712,0.3664,0.3698,0.3656,0.3704,0.3680,
  0.3718,0.3692];

// ---- tick values ----
const p1XTicks = [0,20,40,60,80,100,120,140], p1XMinor = [10,30,50,70,90,110,130];
const p1YTicks = [0.315,0.320,0.325,0.330,0.335,0.340,0.345,0.350];
const p1YMinor = [0.3175,0.3225,0.3275,0.3325,0.3375,0.3425,0.3475];
const p2XTicks = [0,200,400,600,800,1000], p2XMinor = [100,300,500,700,900,1100];
const p2YTicks = [0.30,0.31,0.32,0.33,0.34,0.35,0.36], p2YMinor = [0.295,0.305,0.315,0.325,0.335,0.345,0.355];
const p3XTicks = [0,60,120,180,240,300,360], p3XMinor = [30,90,150,210,270,330];
const p3YTicks = [1,2,3,4], p3YMinor = [0.5,1.5,2.5,3.5,4.5];
const p4XTicks = [0,200,400,600,800,1000], p4XMinor = [100,300,500,700,900];
const p4YTicks = [0.300,0.302,0.304,0.306,0.308,0.310,0.312,0.314];
const p4YMinor = [0.301,0.303,0.305,0.307,0.309,0.311,0.313];
const p5XTicks = [0,200,400,600,800,1000], p5XMinor = [100,300,500,700,900];
const p5YTicks = [0.28,0.29,0.30,0.31,0.32,0.33], p5YMinor = [0.285,0.295,0.305,0.315,0.325];
const p6XTicks = [0,250,500,750,1000,1250], p6XMinor = [125,375,625,875,1125,1375];
const p6YTicks = [0.328,0.330,0.332,0.334,0.336,0.338,0.340];
const p6YMinor = [0.329,0.331,0.333,0.335,0.337,0.339];
const p7XTicks = [0,200,400,600,800], p7XMinor = [100,300,500,700];
const p7YTicks = [0.33,0.34,0.35,0.36,0.37], p7YMinor = [0.335,0.345,0.355,0.365];

// ---- legend texts ----
const sampleNames = ['BAD', 'BAD', 'BELsI', 'BELsD', 'BELsD', 'BELcD', 'BELcD'];
const sampleStates = ['(no recocida)', '(recocida)', '(recocida)', '(no recocida)', '(recocida)', '(no recocida)', '(recocida)'];

const captionLines = [
  'Figura 2.4.C.2  Resultados experimentales',
  'obtenidos para la birrefringencia',
  'fotoinducida en distintas muestras. Los',
  'resultados se muestran en gráficas de',
  'Intensidad del Haz de Prueba Transmitido vs.',
  'Tiempo de Bombeo. Para efectos de',
  'reproducibilidad, están superpuestos los',
  'datos de dos corridas experimentales',
  'independientes.'
];

const AXIS = '#2a2a2a';
const TXT = '#161616';
const MARK = '#444';
const SANS = '"Liberation Sans", Arial, sans-serif';

// layout of the seven panels (pixel boxes)
const panels = [
  { box: [80.7, 17.3, 385.3, 315.7], x: [-5, 148.5], y: [0.3136, 0.35], xt: p1XTicks, xm: p1XMinor, yt: p1YTicks, ym: p1YMinor, dec: 3, yGap: 52,
    runs: [[badNoRecT, badNoRecA], [badNoRecT, badNoRecB]],
    leg: { box: [282.7, 264.3, 171.3, 58.4], sq: [307.3, 281.7], txt: [334.3, 269.5] } },
  { box: [646, 18.3, 385, 315], x: [-2, 1128], y: [0.292, 0.3648], xt: p2XTicks, xm: p2XMinor, yt: p2YTicks, ym: p2YMinor, dec: 2, yGap: 46,
    runs: [[badRecT, badRecA], [badRecT, badRecB]], sym: 6.5,
    leg: { box: [845.3, 264.3, 172, 58], sq: [870, 281.7], txt: [897.7, 269.5] } },
  { box: [80.7, 456.7, 386, 315], x: [-4, 384], y: [0.252, 4.5], xt: p3XTicks, xm: p3XMinor, yt: p3YTicks, ym: p3YMinor, dec: 0, yGap: 27,
    runs: [[belsiRecT, belsiRecI]], sym: 7, stroke: '#2a2a2a', bw: 1.4,
    leg: { box: [271.7, 706, 183.3, 58], sq: [295, 723.3], txt: [323.3, 711] } },
  { box: [645, 456.7, 386, 315], x: [-6, 1000], y: [0.299, 0.315], xt: p4XTicks, xm: p4XMinor, yt: p4YTicks, ym: p4YMinor, dec: 3, yGap: 51,
    runs: [[belsdNoRecT, belsdNoRecA], [belsdNoRecT, belsdNoRecB], [belsdNoRecT, belsdNoRecC]],
    leg: { box: [828.7, 702.3, 192, 57.7], sq: [852.7, 719.3], txt: [880, 707] } },
  { box: [80.7, 895, 386, 315.7], x: [-4, 1048], y: [0.28, 0.3351], xt: p5XTicks, xm: p5XMinor, yt: p5YTicks, ym: p5YMinor, dec: 2, yGap: 44,
    runs: [[belsdRecT, belsdRecA], [belsdRecT, belsdRecB]], sym: 6.5,
    leg: { box: [263.3, 1139.3, 191.7, 58], sq: [287.3, 1156.7], txt: [315, 1144.5] } },
  { box: [646.7, 894.3, 384.3, 316.4], x: [-2, 1434], y: [0.327, 0.34], xt: p6XTicks, xm: p6XMinor, yt: p6YTicks, ym: p6YMinor, dec: 3, yGap: 53,
    runs: [[belcdNoRecT, belcdNoRecA], [belcdNoRecT, belcdNoRecB], [belcdNoRecT, belcdNoRecC]],
    leg: { box: [828.7, 1143.3, 192, 57.4], sq: [852.7, 1160], txt: [880.7, 1147.8] } },
  { box: [80.7, 1335, 385.3, 315.7], x: [-4, 820], y: [0.33, 0.3751], xt: p7XTicks, xm: p7XMinor, yt: p7YTicks, ym: p7YMinor, dec: 2, yGap: 44,
    runs: [[belcdRecT, belcdRecA], [belcdRecT, belcdRecB]], sym: 6.5,
    leg: { box: [262.3, 1584, 191.7, 57.7], sq: [286.7, 1601.7], txt: [314.3, 1589.5] } }
];

const zip = (xs, ys) => xs.map((x, i) => [x, ys[i]]);

const option = {
  animation: false,
  backgroundColor: '#fff',
  grid: [], xAxis: [], yAxis: [], series: [], graphic: []
};

const lineStyle = { color: AXIS, width: 1.2 };

panels.forEach((p, i) => {
  option.grid.push({ left: p.box[0], top: p.box[1], width: p.box[2], height: p.box[3] });

  const axisSet = (min, max, major, minor, sides, label, name, gap) => {
    const [main, other] = sides;
    return [
      { gridIndex: i, type: 'value', position: main, min, max,
        axisLine: { show: true, onZero: false, lineStyle },
        axisTick: { customValues: major, length: 5, lineStyle },
        axisLabel: Object.assign({ customValues: major, fontFamily: SANS, color: TXT }, label),
        splitLine: { show: false },
        name, nameLocation: 'middle', nameGap: gap,
        nameTextStyle: { fontFamily: SANS, color: TXT, fontSize: main === 'bottom' ? 16.5 : 18 } },
      { gridIndex: i, type: 'value', position: main, min, max,
        axisLine: { show: false }, axisLabel: { show: false }, splitLine: { show: false },
        axisTick: { customValues: minor, length: 3, lineStyle } },
      { gridIndex: i, type: 'value', position: other, min, max,
        axisLine: { show: true, onZero: false, lineStyle }, axisLabel: { show: false }, splitLine: { show: false },
        axisTick: { customValues: major, inside: true, length: 5, lineStyle } },
      { gridIndex: i, type: 'value', position: other, min, max,
        axisLine: { show: false }, axisLabel: { show: false }, splitLine: { show: false },
        axisTick: { customValues: minor, inside: true, length: 3, lineStyle } }
    ];
  };

  option.xAxis.push(...axisSet(p.x[0], p.x[1], p.xt, p.xm, ['bottom', 'top'],
    { fontSize: 13.5, margin: 11, formatter: v => String(v) }, 'Tiempo (s)', 37));
  option.yAxis.push(...axisSet(p.y[0], p.y[1], p.yt, p.ym, ['left', 'right'],
    { fontSize: 13.5, margin: 6, formatter: v => v.toFixed(p.dec) }, 'Intensidad (u.a.)', p.yGap));

  p.runs.forEach(([t, v]) => {
    option.series.push({
      type: 'scatter', xAxisIndex: i * 4, yAxisIndex: i * 4,
      data: zip(t, v), symbol: 'rect', symbolSize: p.sym || 6, clip: true, silent: true,
      itemStyle: { color: 'rgba(255,255,255,0)', borderColor: p.stroke || MARK, borderWidth: p.bw || 1 }
    });
  });

  // legend box
  const L = p.leg;
  option.graphic.push({
    type: 'group', z: 100,
    children: [
      { type: 'rect', shape: { x: L.box[0], y: L.box[1], width: L.box[2], height: L.box[3] },
        style: { fill: '#fff', stroke: '#333', lineWidth: 1.1 } },
      { type: 'rect', shape: { x: L.sq[0] - 3, y: L.sq[1] - 3, width: 6, height: 6 },
        style: { fill: 'none', stroke: '#777', lineWidth: 1 } },
      { type: 'text', x: L.txt[0], y: L.txt[1],
        style: {
          text: '{n|Muestra }{i|' + sampleNames[i] + '}\n{n|' + sampleStates[i] + '}',
          verticalAlign: 'top', textVerticalAlign: 'top',
          rich: {
            n: { fontSize: 17.5, fontFamily: SANS, fill: TXT, color: TXT, lineHeight: 24.5 },
            i: { fontSize: 17.5, fontFamily: SANS, fontStyle: 'italic', fill: TXT, color: TXT, lineHeight: 24.5 }
          }
        } }
    ]
  });
});

// figure caption
option.graphic.push({
  type: 'text', x: 861, y: 1285, z: 100,
  style: {
    text: captionLines.join('\n'),
    font: 'italic 32px "Liberation Serif", "Times New Roman", serif',
    fontSize: 32, fontStyle: 'italic', fontFamily: '"Liberation Serif", "Times New Roman", serif',
    lineHeight: 36.9, fill: '#000',
    align: 'center', textAlign: 'center', verticalAlign: 'top', textVerticalAlign: 'top'
  }
});

const chart = echarts.init(document.getElementById('chart'));
chart.setOption(option);
</script>
</body>
</html>
